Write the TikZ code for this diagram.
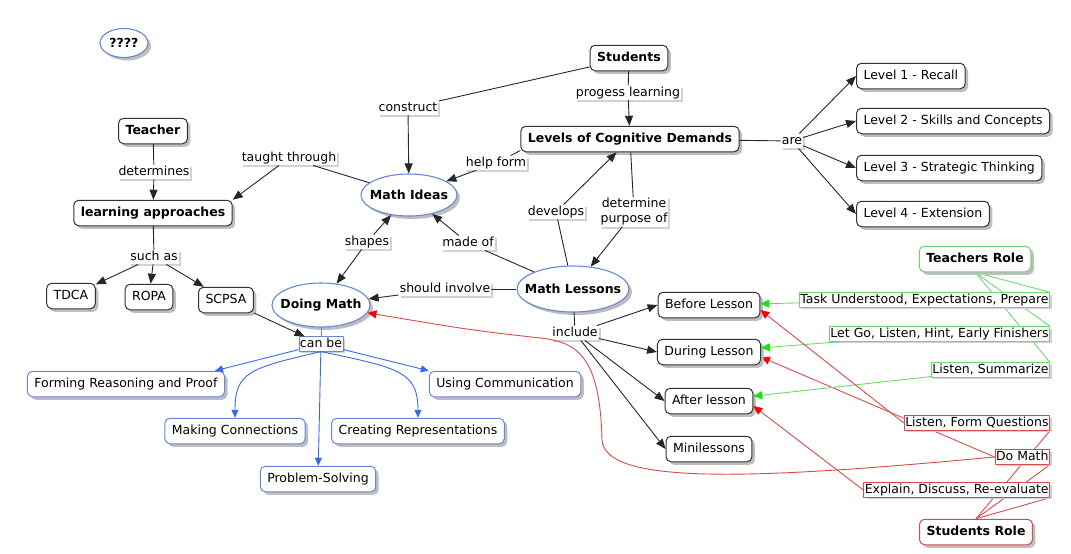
\documentclass[tikz,border=0pt]{standalone}
\usepackage{fontspec}
\setmainfont{DejaVu Sans}
\usetikzlibrary{shapes.geometric,arrows.meta,shadows,backgrounds}

\definecolor{cmblue}{RGB}{105,135,215}
\definecolor{cmarrow}{RGB}{55,105,235}
\definecolor{cmgreen}{RGB}{110,215,110}
\definecolor{cmlime}{RGB}{20,230,20}
\definecolor{cmred}{RGB}{215,75,75}
\definecolor{cmgray}{RGB}{190,190,190}
\definecolor{cmlight}{RGB}{210,210,210}

\tikzset{
  cshadow/.style={drop shadow={shadow xshift=3pt,shadow yshift=-3pt,fill=cmgray,opacity=1}},
  concept/.style={draw=black!80,line width=1pt,rounded corners=5pt,fill=white,
    inner xsep=7pt,inner ysep=6.5pt,text height=9.5pt,text depth=3pt,cshadow},
  mainconcept/.style={concept,font=\fontsize{12.5}{15}\selectfont\bfseries},
  idea/.style={ellipse,draw=cmblue,line width=1.1pt,fill=white,inner sep=0pt,
    font=\fontsize{12.5}{15}\selectfont\bfseries,cshadow},
  skill/.style={concept,draw=cmblue},
  phrase/.style={fill=white,inner sep=1pt,text height=9.5pt,text depth=3pt,
    drop shadow={shadow xshift=2pt,shadow yshift=-2pt,fill=cmlight,opacity=1}},
  tphrase/.style={phrase,draw=cmgreen,line width=.9pt},
  sphrase/.style={phrase,draw=cmred,line width=.9pt},
  link/.style={draw=black!85,line width=.9pt},
  skillarrow/.style={draw=cmarrow,line width=.9pt,-{Triangle[length=8pt,width=7pt]}},
  tline/.style={draw=cmgreen,line width=.9pt},
  sline/.style={draw=cmred,line width=.9pt},
  tarrow/.style={tline,-{Triangle[length=9pt,width=8pt,color=cmlime]}},
  sarrow/.style={sline,-{Triangle[length=9pt,width=8pt,color=red]}},
}

\begin{document}
\begin{tikzpicture}[x=1pt,y=-1pt,>={Triangle[length=10pt,width=8pt]},line join=round,
  font=\fontsize{12.5}{15}\selectfont]
\useasboundingbox (0,0) rectangle (1071,554);

% concepts
\node[idea,minimum width=48pt,minimum height=29pt] (q) at (124,43) {\makebox[0pt]{????}};
\node[mainconcept] (stu) at (629,58) {Students};
\node[mainconcept] (lcd) at (630,139) {Levels of Cognitive Demands};
\node[mainconcept] (tea) at (153,131) {Teacher};
\node[mainconcept] (la) at (153,213) {learning approaches};
\node[idea,minimum width=96pt,minimum height=42pt] (mi) at (409,195) {\makebox[0pt]{Math Ideas}};
\node[idea,minimum width=98pt,minimum height=44pt] (dm) at (321,305) {\makebox[0pt]{Doing Math}};
\node[idea,minimum width=112pt,minimum height=46pt] (ml) at (573,289) {\makebox[0pt]{Math Lessons}};

\node[concept,anchor=west] (l1) at (856,76) {Level 1 - Recall};
\node[concept,anchor=west] (l2) at (856,121) {Level 2 - Skills and Concepts};
\node[concept,anchor=west] (l3) at (856,168) {Level 3 - Strategic Thinking};
\node[concept,anchor=west] (l4) at (856,214) {Level 4 - Extension};

\node[concept] (tdca) at (71,296) {TDCA};
\node[concept] (ropa) at (149,297) {ROPA};
\node[concept] (scpsa) at (226,300) {SCPSA};

\node[skill] (frp) at (126,384) {Forming Reasoning and Proof};
\node[skill] (mc) at (235,431) {Making Connections};
\node[skill] (ps) at (318,479) {Problem-Solving};
\node[skill] (cr) at (418,431) {Creating Representations};
\node[skill] (uc) at (505,384) {Using Communication};

\node[concept] (bef) at (709,305) {Before Lesson};
\node[concept] (dur) at (709,352) {During Lesson};
\node[concept] (aft) at (709,401) {After lesson};
\node[concept] (mini) at (709,449) {Minilessons};

\node[mainconcept,draw=cmgreen] (tr) at (975,259) {Teachers Role};
\node[mainconcept,draw=cmred] (sr) at (976,532) {Students Role};

% linking phrases
\node[phrase] (cons) at (408,108) {construct};
\node[phrase] (prog) at (628,93) {progess learning};
\node[phrase] (det) at (154,172) {determines};
\node[phrase] (taught) at (289,158) {taught through};
\node[phrase] (help) at (496,163) {help form};
\node[phrase] (are) at (792,141) {are};
\node[phrase] (dev) at (556,212) {develops};
\node[phrase,align=center,text height={},text depth={}] (dpo) at (634,212) {determine\\purpose of};
\node[phrase] (shp) at (367,242) {shapes};
\node[phrase] (made) at (468,243) {made of};
\node[phrase] (inv) at (445,289) {should involve};
\node[phrase] (such) at (154,257) {such as};
\node[phrase] (inc) at (575,333) {include};
\node[phrase,draw=cmblue,line width=.7pt] (canbe) at (321,344) {can be};

\node[tphrase,anchor=east] (task) at (1050,300) {Task Understood, Expectations, Prepare};
\node[tphrase,anchor=east] (letgo) at (1050,334) {Let Go, Listen, Hint, Early Finishers};
\node[tphrase,anchor=east] (lsum) at (1050,370) {Listen, Summarize};
\node[sphrase,anchor=east] (lfq) at (1050,423) {Listen, Form Questions};
\node[sphrase,anchor=east] (dom) at (1050,457) {Do Math};
\node[sphrase,anchor=east] (expl) at (1050,490) {Explain, Discuss, Re-evaluate};

% lines running behind the labels
\begin{pgfonlayer}{background}
  \draw[tline] (tr.south) -- (task.north east);
  \draw[tline] (tr.south) -- (letgo.north east);
  \draw[tline] (tr.south) -- (lsum.north east);
  \draw[sline] (sr.north) -- (lfq.south east);
  \draw[sline] (sr.north) -- (dom.south east);
  \draw[sline] (sr.north) -- (expl.south east);
  \draw[sarrow] (dom.west) -- ([yshift=-5pt]dur.east);
\end{pgfonlayer}

% black links
\draw[link] (tea) -- (det);
\draw[link,->] (det) -- (la);
\draw[link] (la) -- (such);
\draw[link,->] (such) -- (tdca);
\draw[link,->] (such) -- (ropa);
\draw[link,->] (such) -- (scpsa);
\draw[link] (stu) -- (cons);
\draw[link,->] (cons) -- (mi);
\draw[link] (stu) -- (prog);
\draw[link,->] (prog) -- (lcd);
\draw[link] (mi) -- (taught);
\draw[link,->] (taught) -- (la.north east);
\draw[link] (lcd.186) -- (help);
\draw[link,->] (help) -- (mi);
\draw[link] (lcd) -- (are);
\draw[link,->] (are) -- (l1.west);
\draw[link,->] (are) -- (l2.west);
\draw[link,->] (are) -- (l3.west);
\draw[link,->] (are) -- (l4.west);
\draw[link] (ml) -- (dev);
\draw[link,->] (dev) -- (lcd);
\draw[link] (lcd) -- (dpo);
\draw[link,->] (dpo) -- (ml);
\draw[link,->] (shp) -- (mi);
\draw[link,->] (shp) -- (dm);
\draw[link] (ml) -- (made);
\draw[link,->] (made) -- (mi);
\draw[link] (ml) -- (inv);
\draw[link,->] (inv) -- (dm);
\draw[link] (ml) -- (inc);
\draw[link,->] (inc) -- (bef.west);
\draw[link,->] (inc) -- (dur.west);
\draw[link,->] (inc) -- (aft.west);
\draw[link,->] (inc) -- (mini.west);
\draw[link,->] (scpsa) -- (canbe);

% can be
\draw[draw=cmblue,line width=.9pt] (dm) -- (canbe);
\draw[skillarrow] (canbe) -- ([xshift=-10pt]frp.north east);
\draw[skillarrow] (canbe.south) .. controls (250,368) and (235,372) .. (mc.north);
\draw[skillarrow] (canbe) -- (ps);
\draw[skillarrow] (canbe.south) .. controls (400,368) and (418,372) .. (cr.north);
\draw[skillarrow] (canbe) -- (uc.north west);

% roles
\draw[tarrow] (task) -- (bef);
\draw[tarrow] (letgo) -- (dur);
\draw[tarrow] (lsum) -- (aft);
\draw[sarrow] (lfq.west) -- ([yshift=-5pt]bef.east);
\draw[sarrow] (expl.west) -- ([yshift=-5pt]aft.east);
\draw[sarrow] (dom.west) .. controls (750,480) and (605,485) .. (602,440)
  .. controls (600,360) and (580,342) .. (540,338) .. controls (470,330) .. (dm);
\end{tikzpicture}
\end{document}
